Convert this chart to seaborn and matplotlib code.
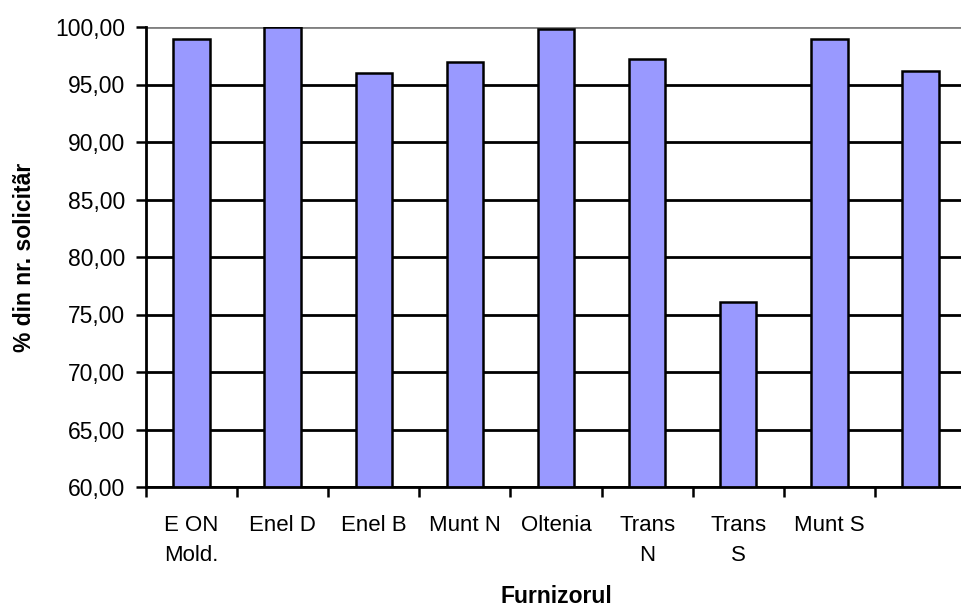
import matplotlib
matplotlib.use("Agg")
import matplotlib.pyplot as plt
from matplotlib.ticker import FixedLocator, FuncFormatter
import seaborn as sns
import pandas as pd

furnizori = ["E ON\nMold.", "Enel D", "Enel B", "Munt N", "Oltenia",
             "Trans\nN", "Trans\nS", "Munt S", ""]
procent = [99.0, 100.0, 96.0, 97.0, 99.8, 97.2, 76.1, 99.0, 96.2]
y_ticks = [60, 65, 70, 75, 80, 85, 90, 95, 100]

sns.set_theme(style="white", rc={"text.color": "black", "axes.labelcolor": "black",
                                 "xtick.color": "black", "ytick.color": "black"})
plt.rcParams["font.family"] = ["Liberation Sans", "DejaVu Sans"]

df = pd.DataFrame({"furnizor": furnizori, "procent": procent})

fig = plt.figure(figsize=(9.62, 6.08), dpi=100)
ax = fig.add_axes([146 / 962, 1 - 487 / 608, 820 / 962, 460 / 608])

sns.barplot(data=df, x="furnizor", y="procent", order=furnizori,
            color="#9999FF", saturation=1, width=0.4,
            edgecolor="black", linewidth=1.8, ax=ax)

ax.set_ylim(60, 100)
ax.set_xlim(-0.5, len(furnizori) - 0.5)
ax.yaxis.set_major_locator(FixedLocator(y_ticks))
ax.yaxis.set_major_formatter(FuncFormatter(lambda v, p: f"{v:.2f}".replace(".", ",")))

ax.set_axisbelow(True)
ax.grid(axis="y", color="black", linewidth=2)
ax.grid(axis="x", visible=False)
ax.get_ygridlines()[-1].set_color("#808080")

for side in ["top", "right"]:
    ax.spines[side].set_visible(False)
for side in ["left", "bottom"]:
    ax.spines[side].set_color("black")
    ax.spines[side].set_linewidth(2)

# category boundary ticks on the x axis, labels centred without ticks
ax.xaxis.set_minor_locator(FixedLocator([i - 0.5 for i in range(len(furnizori) + 1)]))
ax.tick_params(axis="x", which="minor", bottom=True, length=7, width=1.8, color="black")
ax.tick_params(axis="x", which="major", bottom=True, length=0, pad=20, labelsize=16,
               labelcolor="black")
ax.tick_params(axis="y", which="major", left=True, length=7, width=1.8,
               color="black", pad=8, labelsize=16.5, labelcolor="black")
for lbl in ax.get_xticklabels():
    lbl.set_linespacing(1.6)
    lbl.set_multialignment("center")
    lbl.set_verticalalignment("top")

ax.set_xlabel("Furnizorul", fontsize=16.5, fontweight="bold", color="black")
ax.set_ylabel("% din nr. solicitãr", fontsize=16.5, fontweight="bold", color="black")
ax.xaxis.set_label_coords(0.501, -0.252)
ax.xaxis.label.set_verticalalignment("baseline")
ax.yaxis.set_label_coords(-0.1476, 0.5)
ax.yaxis.label.set_verticalalignment("center")

fig.savefig("out.png", dpi=100)
